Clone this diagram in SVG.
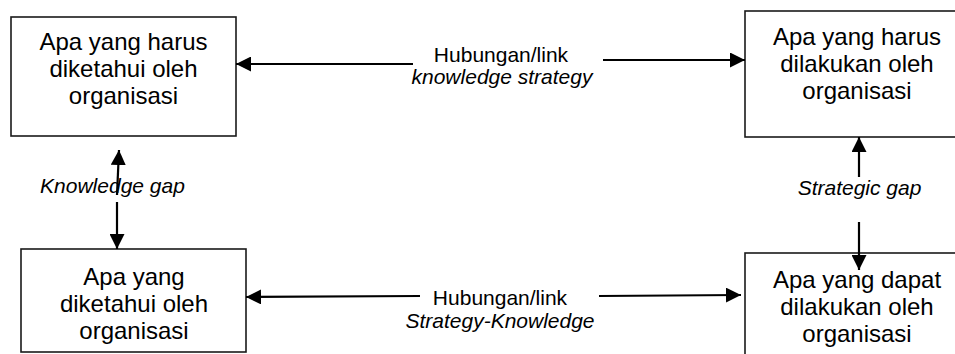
<svg xmlns="http://www.w3.org/2000/svg" width="955" height="354" viewBox="0 0 955 354">
  <defs>
    <marker id="ah" markerUnits="userSpaceOnUse" markerWidth="15" markerHeight="15" refX="15" refY="7.5" orient="auto">
      <path d="M0,0 L15,7.5 L0,15 z" fill="#000"/>
    </marker>
  </defs>
  <style>
    .box { fill: #fff; stroke: #1a1a1a; stroke-width: 1.6; }
    .bt { font-family: "Liberation Sans", Arial, sans-serif; font-size: 24px; fill: #000; text-anchor: middle; }
    .lt { font-family: "Liberation Sans", Arial, sans-serif; font-size: 21px; fill: #000; text-anchor: middle; }
    .it { font-style: italic; }
    .conn line { stroke: #000; stroke-width: 2.2; marker-end: url(#ah); }
  </style>
  <rect width="955" height="354" fill="#fff"/>

  <g id="node-tl">
    <rect class="box" x="11" y="17" width="225" height="119"/>
    <text class="bt" x="123.5" y="50">Apa yang harus</text>
    <text class="bt" x="123.5" y="77">diketahui oleh</text>
    <text class="bt" x="123.5" y="104">organisasi</text>
  </g>

  <g id="node-tr">
    <rect class="box" x="745" y="11" width="224" height="126"/>
    <text class="bt" x="857" y="45">Apa yang harus</text>
    <text class="bt" x="857" y="72">dilakukan oleh</text>
    <text class="bt" x="857" y="99">organisasi</text>
  </g>

  <g id="node-bl">
    <rect class="box" x="21" y="249" width="225" height="103"/>
    <text class="bt" x="134" y="285">Apa yang</text>
    <text class="bt" x="134" y="312">diketahui oleh</text>
    <text class="bt" x="134" y="339">organisasi</text>
  </g>

  <g id="node-br">
    <rect class="box" x="745" y="253" width="224" height="120"/>
    <text class="bt" x="857" y="288">Apa yang dapat</text>
    <text class="bt" x="857" y="315">dilakukan oleh</text>
    <text class="bt" x="857" y="342">organisasi</text>
  </g>

  <g id="connectors" class="conn">
    <line x1="413" y1="64" x2="236" y2="64"/>
    <line x1="603" y1="60" x2="745" y2="60"/>
    <line x1="420" y1="296" x2="246" y2="297"/>
    <line x1="599" y1="296" x2="741" y2="295"/>
    <line x1="117" y1="195" x2="119" y2="150"/>
    <line x1="117" y1="202" x2="117" y2="249"/>
    <line x1="859" y1="177" x2="859" y2="137"/>
    <line x1="859" y1="222" x2="859" y2="270"/>
  </g>

  <g id="labels">
    <text class="lt" x="501" y="62">Hubungan/link</text>
    <text class="lt it" x="502" y="84">knowledge strategy</text>
    <text class="lt" x="500" y="305">Hubungan/link</text>
    <text class="lt it" x="500" y="328">Strategy-Knowledge</text>
    <text class="lt it" x="112.5" y="193">Knowledge gap</text>
    <text class="lt it" x="859.5" y="195">Strategic gap</text>
  </g>
</svg>
